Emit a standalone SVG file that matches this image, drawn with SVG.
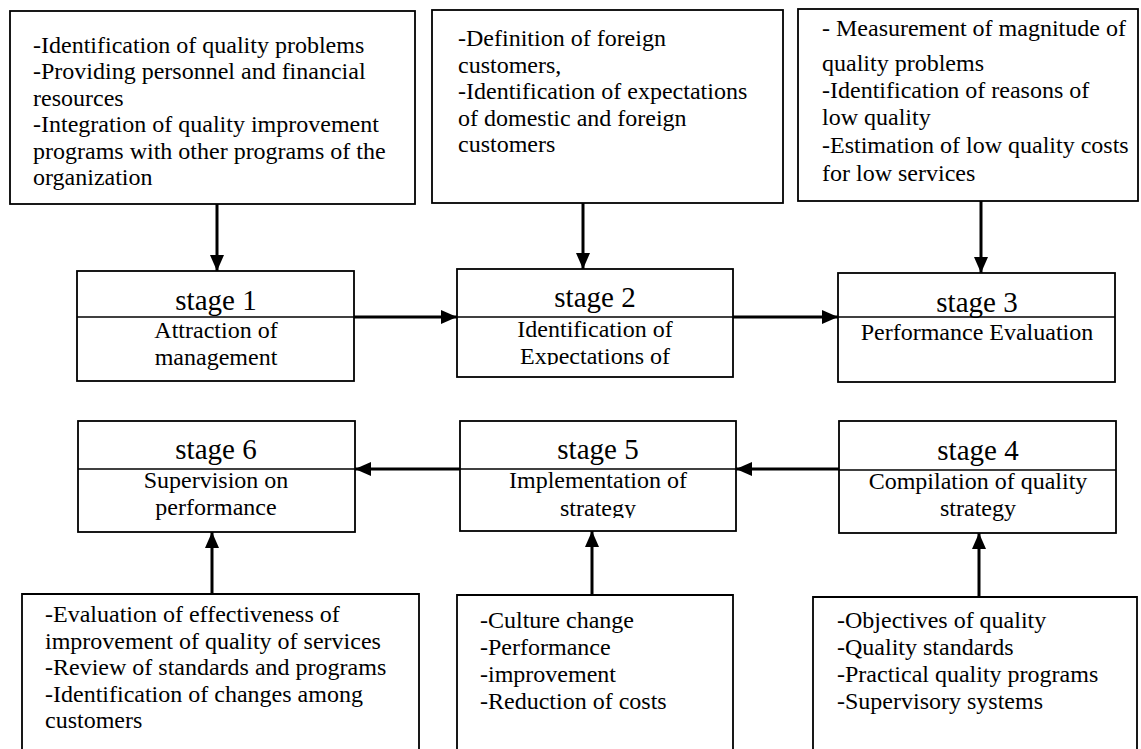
<svg xmlns="http://www.w3.org/2000/svg" width="1141" height="749" viewBox="0 0 1141 749">
<style>
  .box { fill: #fff; stroke: #000; stroke-width: 1.8; }
  .open { fill: none; stroke: #000; stroke-width: 1.8; }
  .div { stroke: #000; stroke-width: 1.5; }
  .t { font-family: "Liberation Serif", "Times New Roman", serif; font-size: 24px; fill: #000; }
  .h { font-family: "Liberation Serif", "Times New Roman", serif; font-size: 29px; fill: #000; text-anchor: middle; }
  .c { text-anchor: middle; }
  .conn { stroke: #000; stroke-width: 3; fill: none; }
</style>
<defs>
  <marker id="ah" viewBox="0 0 16 14" refX="16" refY="7" markerWidth="16" markerHeight="14" markerUnits="userSpaceOnUse" orient="auto">
    <path d="M0,0 L16,7 L0,14 Z" fill="#000"/>
  </marker>
  <clipPath id="clip2"><rect x="457" y="318" width="276" height="47"/></clipPath>
  <clipPath id="clip5"><rect x="460" y="470" width="276" height="48"/></clipPath>
</defs>
<rect width="1141" height="749" fill="#fff"/>

<g id="top1">
  <rect class="box" x="10" y="11" width="405" height="193"/>
  <text class="t" x="33" y="53">-Identification of quality problems</text>
  <text class="t" x="33" y="79">-Providing personnel and financial</text>
  <text class="t" x="33" y="105.5">resources</text>
  <text class="t" x="33" y="132">-Integration of quality improvement</text>
  <text class="t" x="33" y="158.5">programs with other programs of the</text>
  <text class="t" x="33" y="185">organization</text>
</g>
<g id="top2">
  <rect class="box" x="432" y="10" width="351" height="193"/>
  <text class="t" x="458" y="46">-Definition of foreign</text>
  <text class="t" x="458" y="72.5">customers,</text>
  <text class="t" x="458" y="99">-Identification of expectations</text>
  <text class="t" x="458" y="125.5">of domestic and foreign</text>
  <text class="t" x="458" y="152">customers</text>
</g>
<g id="top3">
  <rect class="box" x="798" y="9" width="340" height="192"/>
  <text class="t" x="822" y="36">- Measurement of magnitude of</text>
  <text class="t" x="822" y="71">quality problems</text>
  <text class="t" x="822" y="98">-Identification of reasons of</text>
  <text class="t" x="822" y="125">low quality</text>
  <text class="t" x="822" y="153">-Estimation of low quality costs</text>
  <text class="t" x="822" y="181">for low services</text>
</g>

<g id="stage1">
  <rect class="box" x="77" y="271" width="277" height="110"/>
  <line class="div" x1="77" y1="317" x2="354" y2="317"/>
  <text class="h" x="216" y="310">stage 1</text>
  <text class="t c" x="216" y="338">Attraction of</text>
  <text class="t c" x="216" y="365">management</text>
</g>
<g id="stage2">
  <rect class="box" x="457" y="269" width="276" height="108"/>
  <line class="div" x1="457" y1="317" x2="733" y2="317"/>
  <text class="h" x="595" y="307">stage 2</text>
  <g clip-path="url(#clip2)">
    <text class="t c" x="595" y="337">Identification of</text>
    <text class="t c" x="595" y="364">Expectations of</text>
  </g>
</g>
<g id="stage3">
  <rect class="box" x="838" y="273" width="277" height="109"/>
  <line class="div" x1="838" y1="317" x2="1115" y2="317"/>
  <text class="h" x="977" y="312">stage 3</text>
  <text class="t c" x="977" y="340">Performance Evaluation</text>
</g>

<g id="stage6">
  <rect class="box" x="78" y="421" width="277" height="111"/>
  <line class="div" x1="78" y1="469" x2="355" y2="469"/>
  <text class="h" x="216" y="459">stage 6</text>
  <text class="t c" x="216" y="488">Supervision on</text>
  <text class="t c" x="216" y="515">performance</text>
</g>
<g id="stage5">
  <rect class="box" x="460" y="421" width="276" height="110"/>
  <line class="div" x1="460" y1="469" x2="736" y2="469"/>
  <text class="h" x="598" y="459">stage 5</text>
  <g clip-path="url(#clip5)">
    <text class="t c" x="598" y="488">Implementation of</text>
    <text class="t c" x="598" y="516">strategy</text>
  </g>
</g>
<g id="stage4">
  <rect class="box" x="839" y="421" width="277" height="112"/>
  <line class="div" x1="839" y1="470" x2="1116" y2="470"/>
  <text class="h" x="978" y="460">stage 4</text>
  <text class="t c" x="978" y="489">Compilation of quality</text>
  <text class="t c" x="978" y="516">strategy</text>
</g>

<g id="bottom1">
  <path class="open" d="M22,760 V594 H419 V760"/>
  <text class="t" x="45" y="622">-Evaluation of effectiveness of</text>
  <text class="t" x="45" y="648.5">improvement of quality of services</text>
  <text class="t" x="45" y="675">-Review of standards and programs</text>
  <text class="t" x="45" y="701.5">-Identification of changes among</text>
  <text class="t" x="45" y="728">customers</text>
</g>
<g id="bottom2">
  <path class="open" d="M457,760 V595 H733 V760"/>
  <text class="t" x="480" y="628">-Culture change</text>
  <text class="t" x="480" y="655">-Performance</text>
  <text class="t" x="480" y="682">-improvement</text>
  <text class="t" x="480" y="709">-Reduction of costs</text>
</g>
<g id="bottom3">
  <path class="open" d="M813,760 V597 H1137 V760"/>
  <text class="t" x="837" y="628">-Objectives of quality</text>
  <text class="t" x="837" y="655">-Quality standards</text>
  <text class="t" x="837" y="682">-Practical quality programs</text>
  <text class="t" x="837" y="709">-Supervisory systems</text>
</g>

<g id="connectors">
  <line class="conn" x1="217" y1="204" x2="217" y2="271" marker-end="url(#ah)"/>
  <line class="conn" x1="583" y1="203" x2="583" y2="269" marker-end="url(#ah)"/>
  <line class="conn" x1="981" y1="201" x2="981" y2="273" marker-end="url(#ah)"/>
  <line class="conn" x1="354" y1="317" x2="457" y2="317" marker-end="url(#ah)"/>
  <line class="conn" x1="733" y1="317" x2="838" y2="317" marker-end="url(#ah)"/>
  <line class="conn" x1="839" y1="469" x2="736" y2="469" marker-end="url(#ah)"/>
  <line class="conn" x1="460" y1="469" x2="355" y2="469" marker-end="url(#ah)"/>
  <line class="conn" x1="212" y1="594" x2="212" y2="532" marker-end="url(#ah)"/>
  <line class="conn" x1="592" y1="595" x2="592" y2="531" marker-end="url(#ah)"/>
  <line class="conn" x1="979" y1="597" x2="979" y2="533" marker-end="url(#ah)"/>
</g>
</svg>
